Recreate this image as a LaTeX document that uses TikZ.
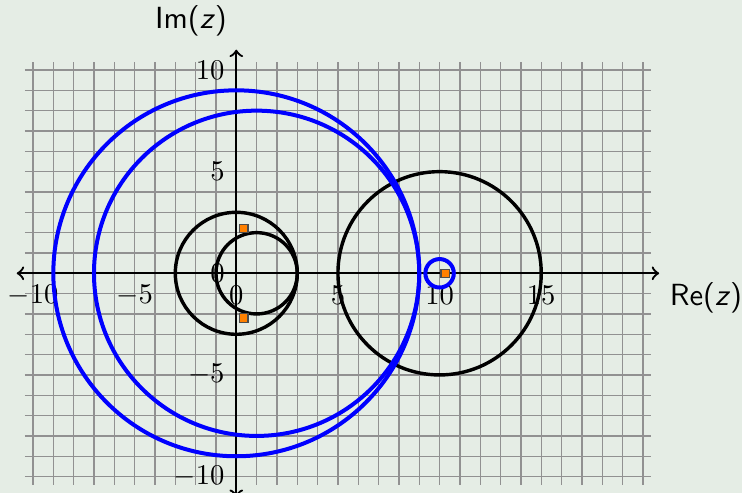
\documentclass[tikz,border=0pt]{standalone}
\usepackage{tikz}
\definecolor{bg}{RGB}{229,237,229}
\definecolor{gridc}{RGB}{145,145,145}
\definecolor{eig}{RGB}{255,128,0}
\begin{document}
\begin{tikzpicture}[x=0.25cm,y=0.25cm,
  gridline/.style={gridc, line width=0.5pt},
  axis/.style={<->, thick},
  rowdisc/.style={black, line width=1.2pt},
  coldisc/.style={blue, line width=1.4pt},
  eigv/.style={draw=black!70, fill=eig, rectangle, minimum size=2.9pt, inner sep=0pt, line width=0.4pt},
  xtick/.style={font=\fontsize{10}{12}\selectfont, inner sep=0pt, anchor=center},
  ytick/.style={font=\fontsize{10}{12}\selectfont, inner sep=0pt, anchor=east},
  axlabel/.style={font=\fontsize{10.7}{13}\selectfont\sffamily, inner sep=0pt}]
\fill[bg] (-11.623,-10.807) rectangle (24.875,13.443);
\useasboundingbox (-11.623,-10.807) rectangle (24.875,13.443);
% grid
\foreach \gx in {-10,...,20}
  \draw[gridline] (\gx,-10.4) -- (\gx,10.4);
\foreach \gy in {-10,...,10}
  \draw[gridline] (-10.4,\gy) -- (20.4,\gy);
% axes
\coordinate (xl) at (-10.8,0);
\coordinate (xr) at (20.8,0);
\coordinate (yb) at (0,-11);
\coordinate (yt) at (0,11);
\draw[axis] (xl) -- (xr);
\draw[axis] (yb) -- (yt);
% tick labels
\foreach \v in {-10,-5,0,5,10,15}
  \node[xtick] (xt\v) at (\v,-1.07) {$\v$};
\foreach \v in {-10,-5,0,5,10}
  \node[ytick] (yt\v) at (-0.55,\v) {$\v$};
% axis labels
\node[axlabel] (im) at (-2.23,12.4) {Im(\textit{z})};
\node[axlabel] (re) at (23.1,-1.22) {Re(\textit{z})};
% disc centres
\coordinate (c0) at (0,0);
\coordinate (c1) at (1,0);
\coordinate (c10) at (10,0);
% row discs
\draw[rowdisc] (c0) circle (3);
\draw[rowdisc] (c1) circle (2);
\draw[rowdisc] (c10) circle (5);
% column discs
\draw[coldisc] (c0) circle (9);
\draw[coldisc] (c1) circle (8);
\draw[coldisc] (c10) circle (0.7);
% eigenvalues
\node[eigv] (e1) at (0.37,2.2) {};
\node[eigv] (e2) at (0.37,-2.2) {};
\node[eigv] (e3) at (10.27,0) {};
\end{tikzpicture}
\end{document}
